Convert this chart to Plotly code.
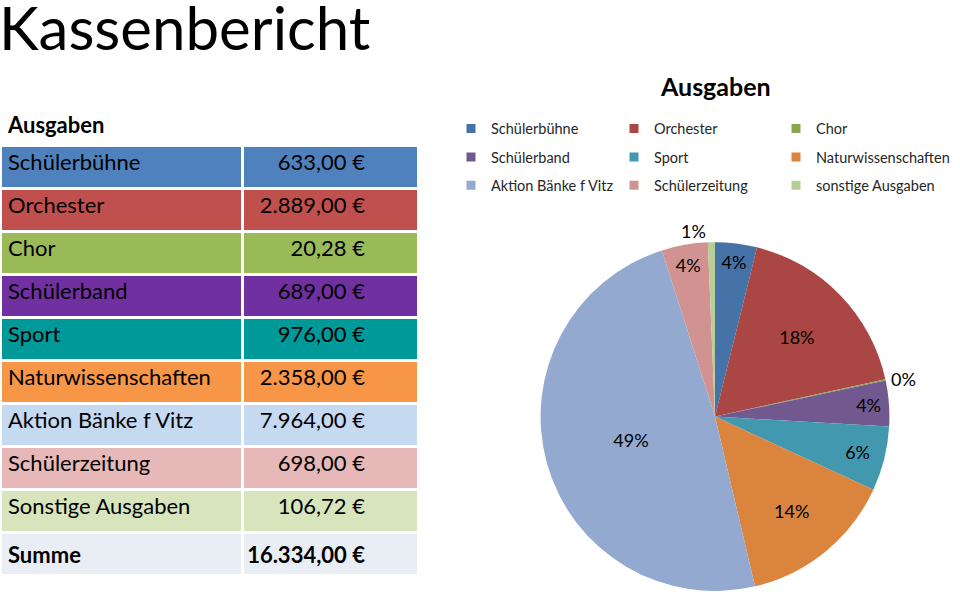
import plotly.graph_objects as go

# ---------------- data ----------------
main_title = "Kassenbericht"
chart_title = "Ausgaben"
table_header = "Ausgaben"
table_labels = ["Schülerbühne", "Orchester", "Chor", "Schülerband", "Sport",
                "Naturwissenschaften", "Aktion Bänke f Vitz", "Schülerzeitung",
                "Sonstige Ausgaben"]
legend_labels = ["Schülerbühne", "Orchester", "Chor", "Schülerband", "Sport",
                 "Naturwissenschaften", "Aktion Bänke f Vitz", "Schülerzeitung",
                 "sonstige Ausgaben"]
amounts = [633.00, 2889.00, 20.28, 689.00, 976.00, 2358.00, 7964.00, 698.00, 106.72]
total_label = "Summe"

table_colors = ["#4F81BD", "#C0504D", "#9BBB59", "#7030A0", "#009999",
                "#F79646", "#C5D9F1", "#E6B8B7", "#D8E4BC"]
total_color = "#E9EDF4"
pie_colors = ["#4572A7", "#AA4643", "#89A54E", "#71588F", "#4198AF",
              "#DB843D", "#93A9CF", "#D19392", "#B9CD96"]
pie_text_pos = ["inside", "inside", "outside", "inside", "inside",
                "inside", "inside", "inside", "outside"]

FONT = "Lato"
W, H = 960, 596


def de(v):
    s = f"{v:,.2f}"
    return s.replace(",", "X").replace(".", ",").replace("X", ".") + " €"


total = sum(amounts)
label_cells = list(table_labels) + ["<b>" + total_label + "</b>"]
value_cells = [de(v) for v in amounts] + ["<b>" + de(total) + "</b>"]
row_fill = table_colors + [total_color]

fig = go.Figure()

# ---------------- table ----------------
fig.add_trace(go.Table(
    domain=dict(x=[0, 418 / W], y=[0, 1 - 103 / H]),
    columnwidth=[242, 176],
    header=dict(values=["<b>" + table_header + "</b>", ""],
                fill_color="white", line=dict(color="white", width=3),
                align="left", height=30,
                font=dict(family=FONT, size=22, color="black")),
    cells=dict(values=[label_cells, value_cells],
               fill_color=[row_fill, row_fill],
               line=dict(color="white", width=3),
               align=["left", "right"], height=43,
               suffix=[None, "\u00a0" * 4],
               font=dict(family=FONT, size=22, color="black")),
))

# ---------------- pie ----------------
fig.add_trace(go.Pie(
    labels=legend_labels, values=amounts, sort=False, direction="clockwise",
    rotation=0,
    marker=dict(colors=pie_colors, line=dict(width=0)),
    texttemplate="%{percent:.0%}", textposition=pie_text_pos,
    insidetextorientation="horizontal",
    textfont=dict(family=FONT, size=18, color="black"),
    showlegend=False, hoverinfo="label+value+percent",
    domain=dict(x=[540 / W, 890 / W], y=[1 - 593 / H, 1 - 243 / H]),
))

# ---------------- legend entries (3 columns) ----------------
legend_names = ["legend", "legend2", "legend3"]
for i, (lab, col) in enumerate(zip(legend_labels, pie_colors)):
    fig.add_trace(go.Scatter(
        x=[None], y=[None], mode="markers", name=lab,
        marker=dict(symbol="square", size=9, color=col),
        legend=legend_names[i % 3], legendgroup=lab, showlegend=True,
    ))

leg_common = dict(yanchor="top", xanchor="left", traceorder="grouped",
                  tracegroupgap=6.5, bgcolor="rgba(0,0,0,0)",
                  font=dict(family=FONT, size=14.5, color="#262626"))
col_x = [451, 614, 776]
leg_y = 1 - 113 / H

fig.update_layout(
    width=W, height=H,
    margin=dict(l=0, r=0, t=0, b=0),
    paper_bgcolor="white", plot_bgcolor="white",
    xaxis=dict(visible=False), yaxis=dict(visible=False),
    uniformtext=dict(minsize=18, mode="show"),
    legend=dict(x=col_x[0] / W, y=leg_y, **leg_common),
    legend2=dict(x=col_x[1] / W, y=leg_y, **leg_common),
    legend3=dict(x=col_x[2] / W, y=leg_y, **leg_common),
    annotations=[
        dict(text=main_title, x=0, y=1, xref="paper", yref="paper",
             xanchor="left", yanchor="top", showarrow=False, xshift=-3, yshift=11,
             font=dict(family=FONT, size=60, color="black")),
        dict(text="<b>" + chart_title + "</b>", x=715 / W, y=1 - 86 / H,
             xref="paper", yref="paper", xanchor="center", yanchor="middle",
             showarrow=False, font=dict(family=FONT, size=25, color="black")),
    ],
)

fig.write_html("out.html", config={"displayModeBar": False},
               post_script="document.body.style.margin='0';document.body.style.padding='0';")
